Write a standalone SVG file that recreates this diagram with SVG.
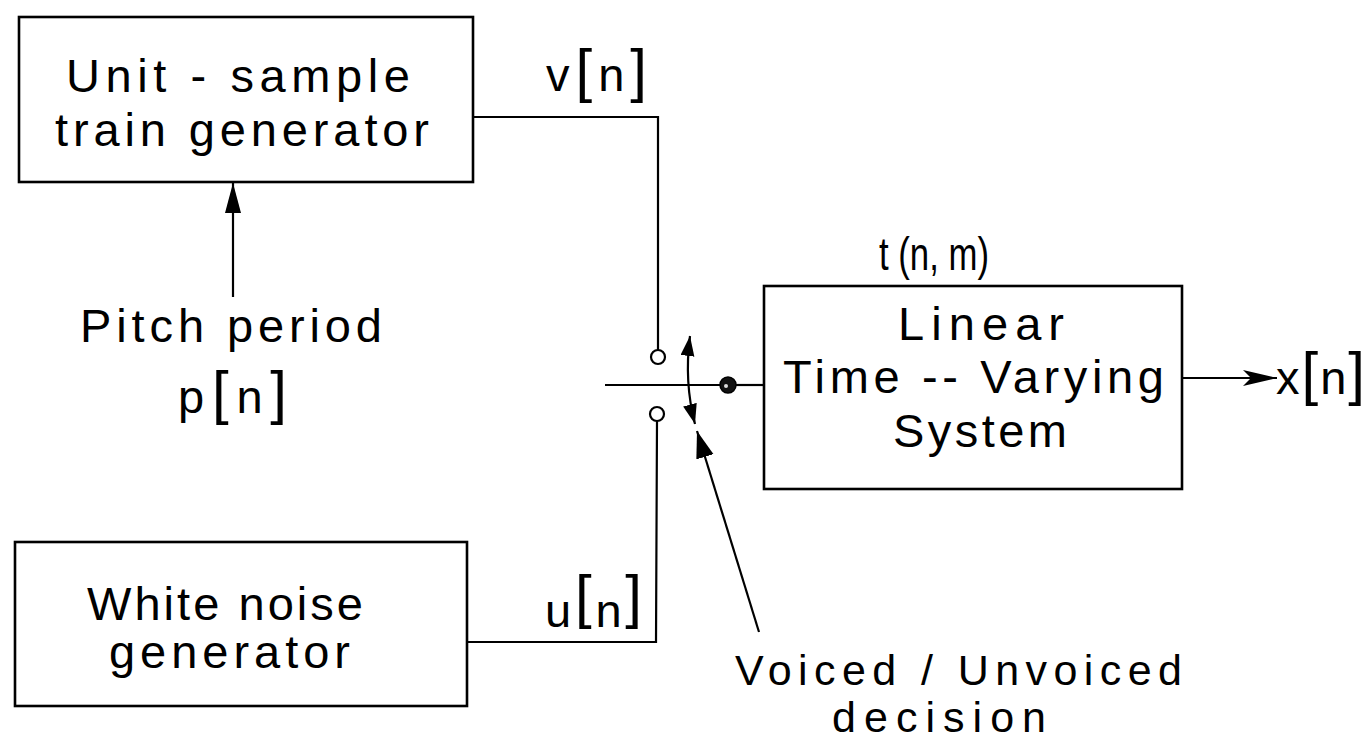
<svg xmlns="http://www.w3.org/2000/svg" width="1371" height="742" viewBox="0 0 1371 742">
<style>
.box{fill:none;stroke:#000;stroke-width:2.6}
.ln{fill:none;stroke:#000;stroke-width:2.2}
text{font-family:"Liberation Sans",Arial,sans-serif;font-size:47px;fill:#000}
.br{font-size:60px}
.dec{font-size:43px}
</style>
<defs>
<marker id="ahBig" markerUnits="userSpaceOnUse" markerWidth="40" markerHeight="24" refX="30" refY="8" orient="auto"><path d="M0,0 L30,8 L0,16 z" fill="#000"/></marker>
<marker id="ahDec" markerUnits="userSpaceOnUse" markerWidth="40" markerHeight="24" refX="27" refY="9" orient="auto"><path d="M0,0 L27,9 L0,18 z" fill="#000"/></marker>
<marker id="ahOut" markerUnits="userSpaceOnUse" markerWidth="40" markerHeight="24" refX="34" refY="8" orient="auto"><path d="M0,0 L34,8 L0,16 L8,8 z" fill="#000"/></marker>
<marker id="ahSw" markerUnits="userSpaceOnUse" markerWidth="30" markerHeight="20" refX="20" refY="7" orient="auto-start-reverse"><path d="M0,0 L20,7 L0,14 z" fill="#000"/></marker>
</defs>
<rect width="1371" height="742" fill="#fff"/>

<g id="pulse-generator">
<rect class="box" x="19" y="17" width="454" height="165"/>
<text x="66" y="92" textLength="344" lengthAdjust="spacing">Unit - sample</text>
<text x="55" y="146" textLength="374" lengthAdjust="spacing">train generator</text>
</g>

<g id="noise-generator">
<rect class="box" x="15" y="542" width="452" height="164"/>
<text x="87" y="620" textLength="276" lengthAdjust="spacing">White noise</text>
<text x="109" y="668" textLength="241" lengthAdjust="spacing">generator</text>
</g>

<g id="ltv-system">
<rect class="box" x="764" y="286" width="418" height="203"/>
<text x="898" y="340" textLength="166" lengthAdjust="spacing">Linear</text>
<text x="783" y="393" textLength="381" lengthAdjust="spacing">Time -- Varying</text>
<text x="893" y="447" textLength="174" lengthAdjust="spacing">System</text>
<text x="879" y="270" font-size="44" textLength="110" lengthAdjust="spacingAndGlyphs">t (n, m)</text>
</g>

<g id="pitch-label">
<text x="80" y="342" textLength="302" lengthAdjust="spacing">Pitch period</text>
<text x="178" y="413" textLength="109" lengthAdjust="spacing">p<tspan class="br">[</tspan>n<tspan class="br">]</tspan></text>
</g>

<g id="signal-labels">
<text x="546" y="91" textLength="101" lengthAdjust="spacing">v<tspan class="br">[</tspan>n<tspan class="br">]</tspan></text>
<text x="545" y="627" textLength="97" lengthAdjust="spacing">u<tspan class="br" dy="-10">[</tspan><tspan dy="10">n</tspan><tspan class="br" dy="-10">]</tspan></text>
<text x="1276" y="394" textLength="89" lengthAdjust="spacing">x<tspan class="br">[</tspan>n<tspan class="br">]</tspan></text>
</g>

<g id="decision-label">
<text class="dec" x="735" y="685" textLength="447" lengthAdjust="spacing">Voiced / Unvoiced</text>
<text class="dec" x="832" y="732" textLength="214" lengthAdjust="spacing">decision</text>
</g>

<g id="switch">
<circle cx="658" cy="357" r="7" fill="#fff" stroke="#000" stroke-width="2.2"/>
<circle cx="657" cy="414" r="7" fill="#fff" stroke="#000" stroke-width="2.2"/>
<circle cx="728" cy="385" r="8" fill="#111" stroke="#000" stroke-width="1.5"/>
<circle cx="726" cy="386" r="2" fill="#ddd"/>
</g>

<g id="connectors">
<polyline class="ln" points="473,117 658,117 658,350"/>
<polyline class="ln" points="467,642 656,642 657,421"/>
<line class="ln" x1="605" y1="385" x2="720" y2="385"/>
<line class="ln" x1="736" y1="385" x2="764" y2="385"/>
<line class="ln" x1="233" y1="297" x2="233" y2="183" marker-end="url(#ahBig)"/>
<line class="ln" x1="1182" y1="378" x2="1277" y2="378" marker-end="url(#ahOut)"/>
<line class="ln" x1="759" y1="632" x2="697" y2="431" marker-end="url(#ahDec)"/>
<path class="ln" d="M690,336 Q684,382 695,424" marker-start="url(#ahSw)" marker-end="url(#ahSw)"/>
</g>
</svg>
